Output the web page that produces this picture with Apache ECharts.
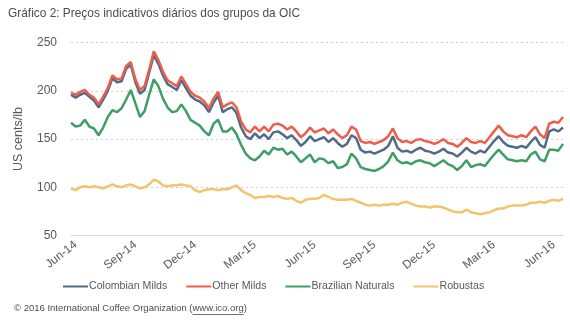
<!DOCTYPE html>
<html>
<head>
<meta charset="utf-8">
<script src="https://cdn.jsdelivr.net/npm/echarts@6/dist/echarts.min.js"></script>
<style>
  html, body { margin: 0; padding: 0; background: #fff; }
  #chart { width: 570px; height: 321px; }
</style>
</head>
<body>
<div id="chart"></div>
<script>
// Weekly indicative prices of the ICO groups, US cents/lb (weeks starting 26 May 2014)
const firstWeek = '2014-05-26';
const tickLabels = ['Jun-14', 'Sep-14', 'Dec-14', 'Mar-15', 'Jun-15', 'Sep-15', 'Dec-15', 'Mar-16', 'Jun-16'];
const tickStart = 1;   // first labelled week
const tickStep = 13;   // one quarter in weeks

const colombianMilds = [
  196, 193, 196, 198, 194, 190, 183, 191, 200, 213, 209, 210, 223, 227, 209, 197, 201, 219, 237, 228,
  216, 207, 204, 201, 211, 203, 195, 191, 189, 185, 178, 188, 195, 178, 181, 183, 177, 162, 153, 150,
  156, 151, 155, 150, 157, 158, 155, 151, 154, 149, 143, 147, 153, 148, 150, 152, 147, 151, 146, 142,
  145, 154, 151, 139, 136, 137, 135, 137, 139, 143, 153, 141, 137, 138, 136, 139, 141, 138, 137, 135,
  137, 140, 136, 135, 132, 136, 141, 137, 135, 138, 136, 142, 148, 153, 147, 143, 142, 141, 143, 141,
  147, 152, 144, 141, 158, 160, 158, 162
];
const otherMilds = [
  198, 196, 199, 201, 196, 193, 186, 194, 203, 216, 212, 213, 226, 230, 212, 201, 205, 222, 241, 232,
  220, 211, 208, 205, 215, 207, 199, 195, 193, 189, 182, 192, 199, 183, 186, 188, 183, 168, 160, 157,
  163, 158, 163, 158, 165, 166, 164, 160, 163, 158, 152, 156, 162, 157, 159, 161, 156, 160, 155, 151,
  154, 163, 160, 148, 146, 147, 145, 147, 149, 153, 161, 151, 147, 148, 146, 149, 150, 148, 147, 145,
  147, 150, 146, 145, 142, 146, 151, 147, 146, 148, 146, 152, 158, 164, 158, 154, 153, 152, 154, 152,
  158, 163, 155, 151, 166, 168, 167, 173
];
const brazilianNaturals = [
  167, 163, 164, 170, 163, 161, 154, 162, 173, 180, 178, 182, 191, 201, 187, 173, 179, 196, 212, 205,
  192, 183, 178, 179, 186, 179, 170, 167, 164, 158, 154, 166, 170, 158, 158, 162, 155, 144, 135, 130,
  128, 132, 138, 134, 141, 139, 140, 134, 137, 132, 126, 130, 134, 126, 130, 129, 125, 127, 120, 121,
  124, 135, 130, 121, 119, 118, 117, 119, 122, 127, 136, 128, 125, 126, 124, 127, 128, 126, 125, 122,
  125, 128, 124, 122, 118, 122, 128, 121, 123, 124, 122, 128, 134, 139, 134, 129, 128, 127, 128, 127,
  134, 137, 129, 127, 139, 139, 138, 145
];
const robustas = [
  99, 97, 100, 101, 100, 101, 100, 99, 101, 103, 101, 100, 102, 103, 101, 99, 100, 103, 108, 106,
  102, 101, 102, 102, 103, 102, 101, 97, 95, 97, 98, 98, 97, 98, 98, 100, 102, 97, 94, 92,
  89, 90, 90, 91, 90, 91, 89, 88, 89, 86, 84, 87, 88, 88, 89, 92, 90, 88, 87, 87,
  87, 88, 86, 84, 82, 81, 82, 81, 82, 82, 83, 82, 84, 85, 83, 81, 80, 80, 79, 80,
  80, 79, 77, 75, 74, 74, 77, 74, 73, 72, 73, 74, 76, 78, 78, 80, 81, 81, 81, 82,
  84, 84, 85, 84, 86, 87, 86, 88
];

// Week-start dates for the category axis
const weeks = [];
{
  const d = new Date(firstWeek + 'T00:00:00Z');
  for (let i = 0; i < colombianMilds.length; i++) {
    weeks.push(d.toISOString().slice(0, 10));
    d.setUTCDate(d.getUTCDate() + 7);
  }
}

const isTick = (i) => i >= tickStart && (i - tickStart) % tickStep === 0;

const textColor = '#595959';
const font = 'Liberation Sans, Arial, sans-serif';

// Footer text, with the web address underlined
const footerPre = '© 2016 International Coffee Organization (';
const footerLink = 'www.ico.org';
const footerPost = ')';
const footerSize = 9.5;
const footerLeft = 14;
const footerTop = 303;
const ctx = document.createElement('canvas').getContext('2d');
ctx.font = footerSize + 'px ' + font;
const linkX = footerLeft + ctx.measureText(footerPre).width;
const linkW = ctx.measureText(footerLink).width;

const chart = echarts.init(document.getElementById('chart'), null, { renderer: 'canvas' });

const mkLine = (name, data, color) => ({
  name, type: 'line', data, symbol: 'none', smooth: false,
  lineStyle: { color, width: 2.5 }, itemStyle: { color },
  emphasis: { disabled: true }
});

chart.setOption({
  animation: false,
  backgroundColor: '#ffffff',
  textStyle: { fontFamily: font },
  title: {
    text: 'Gráfico 2: Preços indicativos diários dos grupos da OIC',
    left: 3, top: 3,
    textStyle: { fontSize: 11.9, fontWeight: 'normal', color: '#4d4d4d', fontFamily: font }
  },
  grid: { left: 71, right: 7, top: 42.7, bottom: 85.5, containLabel: false },
  legend: {
    bottom: 24, left: 58, padding: 5,
    icon: 'rect', itemWidth: 25, itemHeight: 2, itemGap: 19,
    textStyle: { fontSize: 10.6, color: textColor, fontFamily: font, padding: [0, 0, 0, -4] },
    data: ['Colombian Milds', 'Other Milds', 'Brazilian Naturals', 'Robustas']
  },
  xAxis: {
    type: 'category', data: weeks, boundaryGap: false,
    axisLine: { lineStyle: { color: '#d9d9d9', width: 1 } },
    axisTick: { show: false },
    axisLabel: {
      rotate: 38, margin: 8, fontSize: 11.8, color: textColor, fontFamily: font,
      interval: (i) => isTick(i),
      formatter: (v, i) => isTick(i) ? tickLabels[(i - tickStart) / tickStep] : ''
    },
    splitLine: { show: false }
  },
  yAxis: {
    type: 'value', min: 50, max: 250, interval: 50,
    name: 'US cents/lb', nameLocation: 'middle', nameGap: 46, nameRotate: 90,
    nameTextStyle: { fontSize: 12.5, color: textColor, fontFamily: font },
    axisLine: { show: false }, axisTick: { show: false },
    axisLabel: { fontSize: 12, color: textColor, margin: 14, fontFamily: font },
    splitLine: { lineStyle: { color: '#d0d0d0', type: [2, 3], width: 1 } }
  },
  series: [
    mkLine('Robustas', robustas, '#f2c46b'),
    mkLine('Brazilian Naturals', brazilianNaturals, '#3e9e68'),
    mkLine('Colombian Milds', colombianMilds, '#4f6b88'),
    mkLine('Other Milds', otherMilds, '#ec5d4b')
  ],
  graphic: [
    {
      type: 'text', left: footerLeft, top: footerTop,
      style: { text: footerPre + footerLink + footerPost, fontSize: footerSize, fill: '#4d4d4d', fontFamily: font }
    },
    {
      type: 'line', shape: { x1: linkX, y1: footerTop + 11.5, x2: linkX + linkW, y2: footerTop + 11.5 },
      style: { stroke: '#4d4d4d', lineWidth: 0.8 }
    }
  ]
});
</script>
</body>
</html>
